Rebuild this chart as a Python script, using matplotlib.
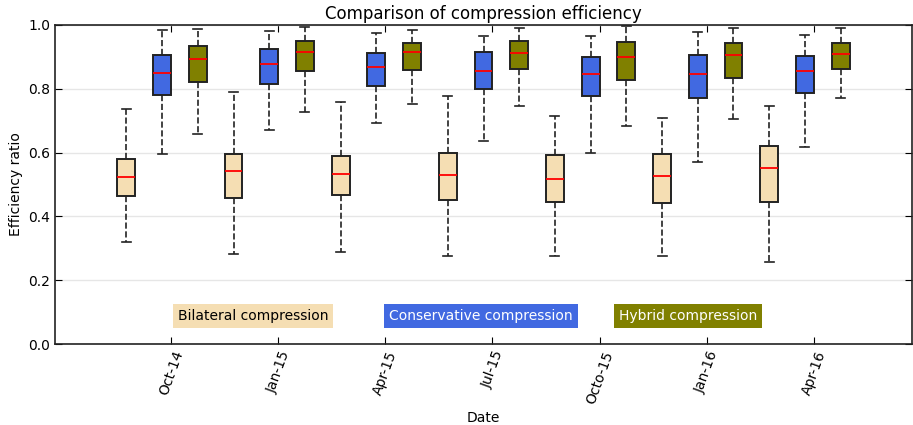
import matplotlib
matplotlib.use("Agg")
import matplotlib.pyplot as plt

# tick labels (one per group)
dates = ["Oct-14", "Jan-15", "Apr-15", "Jul-15", "Octo-15", "Jan-16", "Apr-16"]

# box statistics, one value per group
bil_low = [0.320, 0.282, 0.288, 0.276, 0.276, 0.276, 0.258]
bil_q1 = [0.463, 0.457, 0.468, 0.451, 0.446, 0.442, 0.446]
bil_med = [0.524, 0.542, 0.532, 0.530, 0.516, 0.527, 0.553]
bil_q3 = [0.581, 0.597, 0.589, 0.599, 0.594, 0.596, 0.622]
bil_high = [0.738, 0.790, 0.759, 0.776, 0.714, 0.710, 0.745]

con_low = [0.595, 0.672, 0.692, 0.635, 0.598, 0.571, 0.616]
con_q1 = [0.781, 0.814, 0.809, 0.798, 0.776, 0.770, 0.786]
con_med = [0.850, 0.878, 0.868, 0.857, 0.847, 0.847, 0.857]
con_q3 = [0.905, 0.924, 0.912, 0.914, 0.901, 0.907, 0.904]
con_high = [0.983, 0.981, 0.974, 0.965, 0.965, 0.978, 0.968]

hyb_low = [0.658, 0.727, 0.752, 0.745, 0.683, 0.706, 0.771]
hyb_q1 = [0.820, 0.857, 0.860, 0.863, 0.829, 0.834, 0.863]
hyb_med = [0.893, 0.914, 0.916, 0.911, 0.899, 0.907, 0.909]
hyb_q3 = [0.935, 0.950, 0.945, 0.949, 0.947, 0.945, 0.945]
hyb_high = [0.987, 0.995, 0.985, 0.990, 0.996, 0.990, 0.990]

series = [
    ("Bilateral compression", "#F5DEB3", "black",
     (bil_low, bil_q1, bil_med, bil_q3, bil_high)),
    ("Conservative compression", "#4169E1", "white",
     (con_low, con_q1, con_med, con_q3, con_high)),
    ("Hybrid compression", "#808000", "white",
     (hyb_low, hyb_q1, hyb_med, hyb_q3, hyb_high)),
]

fig = plt.figure(figsize=(9.13, 4.25), dpi=100)
ax = fig.add_axes([55 / 913, 81 / 425, 857 / 913, 319 / 425])

label_x = [0.143, 0.390, 0.658]

for k, (name, color, txtcolor, (lo, q1, med, q3, hi)) in enumerate(series):
    stats = []
    for i in range(len(dates)):
        stats.append(dict(whislo=lo[i], q1=q1[i], med=med[i], q3=q3[i],
                          whishi=hi[i], fliers=[]))
    pos = [1 + 3 * i + k for i in range(len(dates))]
    ax.bxp(stats, positions=pos, widths=0.5, patch_artist=True,
           showfliers=False, manage_ticks=False,
           boxprops=dict(facecolor=color, edgecolor="#222222", linewidth=1.4),
           medianprops=dict(color="red", linewidth=1.3),
           whiskerprops=dict(color="#222222", linestyle="--", linewidth=1.2),
           capprops=dict(color="#222222", linewidth=1.2))
    ax.text(label_x[k], 0.088, name, transform=ax.transAxes, fontsize=10,
            color=txtcolor, va="center", ha="left",
            bbox=dict(facecolor=color, edgecolor="none", pad=3.5))

ax.set_xlim(-1, 23)
ax.set_ylim(0, 1.0)
ax.set_xticks([2.25 + 3 * i for i in range(len(dates))])
ax.set_xticklabels(dates, rotation=70, fontsize=10)
ax.set_yticks([0.0, 0.2, 0.4, 0.6, 0.8, 1.0])
ax.set_yticklabels(["0.0", "0.2", "0.4", "0.6", "0.8", "1.0"], fontsize=10)
ax.yaxis.grid(True, color="#e6e6e6", linewidth=1)
ax.set_axisbelow(True)
ax.tick_params(direction="in", top=True, right=True, length=5)
for s in ax.spines.values():
    s.set_color("#222222")
    s.set_linewidth(1.2)

ax.set_title("Comparison of compression efficiency", fontsize=12, pad=4)
ax.set_xlabel("Date", fontsize=10)
ax.set_ylabel("Efficiency ratio", fontsize=10)

fig.savefig("out.png", dpi=100)
